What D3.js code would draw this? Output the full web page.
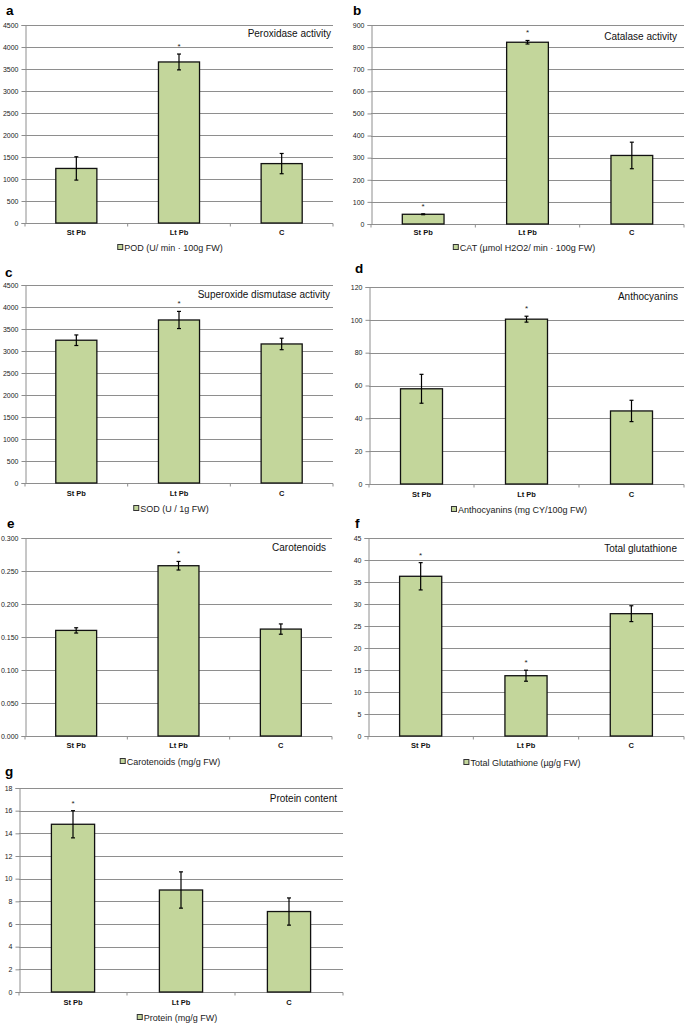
<!DOCTYPE html>
<html>
<head>
<meta charset="utf-8">
<script src="https://cdn.jsdelivr.net/npm/d3@7"></script>
<style>
  html, body { margin: 0; padding: 0; background: #fff; }
  svg { display: block; font-family: Arial, "Liberation Sans", sans-serif; }
</style>
</head>
<body>
<svg id="chart" width="685" height="1024"></svg>
<script>
// ---------- DATA ----------
const categories = ["St Pb", "Lt Pb", "C"];

const podValues = [1240, 3660, 1350];
const podErrors = [265, 180, 230];
const podStars = [false, true, false];
const podTicks = [0, 500, 1000, 1500, 2000, 2500, 3000, 3500, 4000, 4500];

const catValues = [44, 822, 310];
const catErrors = [2, 8, 60];
const catStars = [true, true, false];
const catTicks = [0, 100, 200, 300, 400, 500, 600, 700, 800, 900];

const sodValues = [3245, 3705, 3160];
const sodErrors = [120, 195, 130];
const sodStars = [false, true, false];
const sodTicks = [0, 500, 1000, 1500, 2000, 2500, 3000, 3500, 4000, 4500];

const antValues = [58, 100.4, 44.5];
const antErrors = [8.8, 1.8, 6.5];
const antStars = [false, true, false];
const antTicks = [0, 20, 40, 60, 80, 100, 120];

const carValues = [0.160, 0.258, 0.162];
const carErrors = [0.004, 0.0065, 0.0078];
const carStars = [false, true, false];
const carTicks = [0, 0.05, 0.1, 0.15, 0.2, 0.25, 0.3];

const gluValues = [36.3, 13.7, 27.8];
const gluErrors = [3.1, 1.25, 1.8];
const gluStars = [true, true, false];
const gluTicks = [0, 5, 10, 15, 20, 25, 30, 35, 40, 45];

const proValues = [14.8, 9.0, 7.1];
const proErrors = [1.2, 1.6, 1.2];
const proStars = [true, false, false];
const proTicks = [0, 2, 4, 6, 8, 10, 12, 14, 16, 18];

const panelLetters = ["a", "b", "c", "d", "e", "f", "g"];
const panelTitles = ["Peroxidase activity", "Catalase activity", "Superoxide dismutase activity",
  "Anthocyanins", "Carotenoids", "Total glutathione", "Protein content"];
const legendLabels = ["POD (U/ min · 100g FW)", "CAT (µmol H2O2/ min · 100g FW)", "SOD (U / 1g FW)",
  "Anthocyanins (mg CY/100g FW)", "Carotenoids (mg/g FW)", "Total Glutathione (µg/g FW)", "Protein  (mg/g FW)"];

// ---------- LAYOUT ----------
const BAR_FILL = "#c3d69b";
const GRID = "#8e8e8e";

const panels = [
  {values: podValues, errors: podErrors, stars: podStars, ticks: podTicks, fmt: d3.format("d"),
   x0: 25, x1: 333, y0: 25, y1: 223, lx: 6, ly: 15, tx: 331, ty: 37, catY: 235, legY: 251, legCx: 170},
  {values: catValues, errors: catErrors, stars: catStars, ticks: catTicks, fmt: d3.format("d"),
   x0: 371, x1: 684, y0: 25, y1: 224, lx: 353, ly: 15, tx: 677, ty: 40, catY: 235, legY: 251, legCx: 524},
  {values: sodValues, errors: sodErrors, stars: sodStars, ticks: sodTicks, fmt: d3.format("d"),
   x0: 25, x1: 333, y0: 285, y1: 483, lx: 5, ly: 277, tx: 330, ty: 298, catY: 496, legY: 512, legCx: 171},
  {values: antValues, errors: antErrors, stars: antStars, ticks: antTicks, fmt: d3.format("d"),
   x0: 369, x1: 684, y0: 287, y1: 484, lx: 355, ly: 273, tx: 678, ty: 300, catY: 497, legY: 513, legCx: 519},
  {values: carValues, errors: carErrors, stars: carStars, ticks: carTicks, fmt: d3.format(".3f"),
   x0: 25, x1: 332, y0: 538, y1: 736, lx: 7, ly: 528, tx: 326, ty: 551, catY: 748, legY: 765, legCx: 170},
  {values: gluValues, errors: gluErrors, stars: gluStars, ticks: gluTicks, fmt: d3.format("d"),
   x0: 368, x1: 684, y0: 538, y1: 736, lx: 355, ly: 528, tx: 677, ty: 552, catY: 748, legY: 766, legCx: 522},
  {values: proValues, errors: proErrors, stars: proStars, ticks: proTicks, fmt: d3.format("d"),
   x0: 19, x1: 343, y0: 788, y1: 992, lx: 5, ly: 776, tx: 337, ty: 802, catY: 1005, legY: 1021, legCx: 177}
];

const svg = d3.select("#chart");

panels.forEach((p, i) => {
  const g = svg.append("g");
  const x = d3.scaleBand().domain(categories).range([p.x0, p.x1]).paddingInner(0.6).paddingOuter(0.3);
  const xb = d3.scaleBand().domain(categories).range([p.x0, p.x1]);
  const y = d3.scaleLinear().domain([0, p.ticks[p.ticks.length - 1]]).range([p.y1, p.y0]);

  // gridlines
  g.append("g").selectAll("line").data(p.ticks.filter(t => t > 0)).join("line")
    .attr("x1", p.x0).attr("x2", p.x1)
    .attr("y1", d => Math.round(y(d)) + 0.5).attr("y2", d => Math.round(y(d)) + 0.5)
    .attr("stroke", GRID).attr("stroke-width", 1);

  // y axis
  const yAxis = d3.axisLeft(y).tickValues(p.ticks).tickFormat(p.fmt).tickSize(4).tickPadding(3);
  const ya = g.append("g").attr("transform", `translate(${Math.round(p.x0) + 0.5},0)`).call(yAxis);
  ya.select(".domain").attr("stroke", GRID);
  ya.selectAll(".tick line").attr("stroke", GRID);
  ya.selectAll(".tick text").attr("font-size", 7).attr("fill", "#222")
    .attr("font-family", "Arial, 'Liberation Sans', sans-serif");

  // x axis line with ticks at band edges
  const yb = Math.round(p.y1) + 0.5;
  g.append("line").attr("x1", p.x0).attr("x2", p.x1).attr("y1", yb).attr("y2", yb).attr("stroke", GRID);
  const edges = categories.map(c => xb(c)).concat([p.x1]);
  g.append("g").selectAll("line").data(edges).join("line")
    .attr("x1", d => d).attr("x2", d => d).attr("y1", yb).attr("y2", yb + 3).attr("stroke", GRID);

  // bars
  g.append("g").selectAll("rect").data(p.values).join("rect")
    .attr("x", (d, j) => x(categories[j]))
    .attr("width", x.bandwidth())
    .attr("y", d => y(d))
    .attr("height", d => y(0) - y(d))
    .attr("fill", BAR_FILL).attr("stroke", "#111").attr("stroke-width", 1.3);

  // error bars
  const eg = g.append("g").attr("stroke", "#000").attr("stroke-width", 1.2);
  p.values.forEach((v, j) => {
    const cx = x(categories[j]) + x.bandwidth() / 2;
    const top = y(v + p.errors[j]), bot = y(v - p.errors[j]);
    eg.append("line").attr("x1", cx).attr("x2", cx).attr("y1", top).attr("y2", bot);
    eg.append("line").attr("x1", cx - 2).attr("x2", cx + 2).attr("y1", top).attr("y2", top);
    eg.append("line").attr("x1", cx - 2).attr("x2", cx + 2).attr("y1", bot).attr("y2", bot);
    if (p.stars[j]) {
      g.append("text").attr("x", cx).attr("y", top - 5).attr("text-anchor", "middle")
        .attr("font-size", 8).attr("fill", "#222").text("*");
    }
  });

  // category labels
  g.append("g").selectAll("text").data(categories).join("text")
    .attr("x", d => xb(d) + xb.bandwidth() / 2).attr("y", p.catY)
    .attr("text-anchor", "middle").attr("font-size", 7.5).attr("font-weight", "bold")
    .attr("fill", "#111").text(d => d);

  // panel letter
  g.append("text").attr("x", p.lx).attr("y", p.ly).attr("font-size", 13.5).attr("font-weight", "bold")
    .attr("fill", "#000").text(panelLetters[i]);

  // title
  g.append("text").attr("x", p.tx).attr("y", p.ty).attr("text-anchor", "end")
    .attr("font-size", 10).attr("fill", "#111").text(panelTitles[i]);

  // legend
  const lg = g.append("g");
  const lt = lg.append("text").attr("y", p.legY).attr("font-size", 9).attr("fill", "#222").text(legendLabels[i]);
  const tw = lt.node().getComputedTextLength();
  const total = 7 + tw;
  const start = p.legCx - total / 2;
  lt.attr("x", start + 7);
  lg.append("rect").attr("x", start + 0.5).attr("y", p.legY - 6.5).attr("width", 5).attr("height", 5)
    .attr("fill", BAR_FILL).attr("stroke", "#333").attr("stroke-width", 1);
});
</script>
</body>
</html>
